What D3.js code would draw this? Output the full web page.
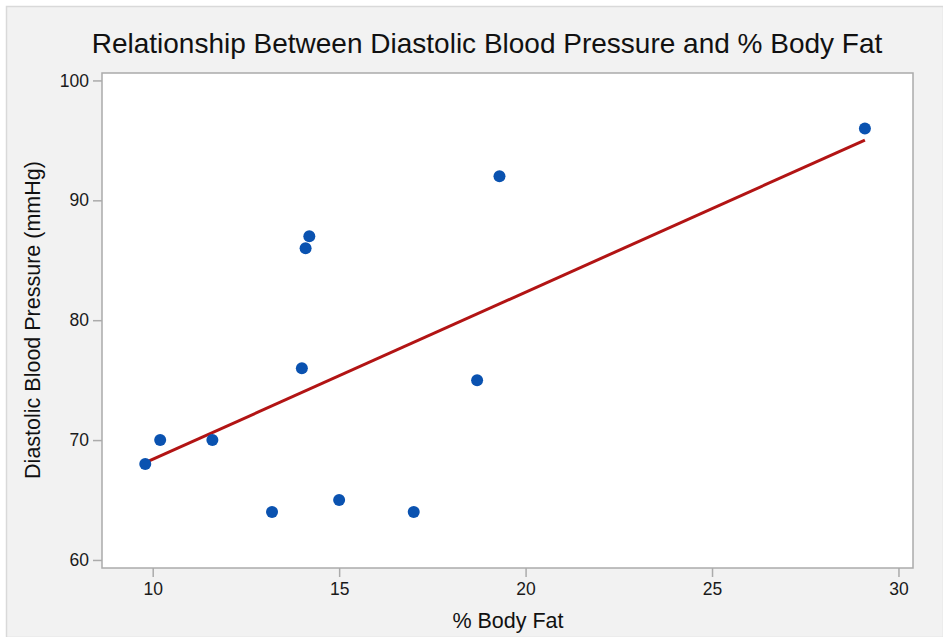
<!DOCTYPE html>
<html>
<head>
<meta charset="utf-8">
<script src="https://cdn.jsdelivr.net/npm/d3@7"></script>
<style>
  html, body { margin: 0; padding: 0; background: #ffffff; }
  svg { display: block; }
  text { font-family: "Liberation Sans", Arial, Helvetica, sans-serif; }
</style>
</head>
<body>
<svg id="chart" width="943" height="637"></svg>
<script>
const title = "Relationship Between Diastolic Blood Pressure and % Body Fat";
const xLabel = "% Body Fat";
const yLabel = "Diastolic Blood Pressure (mmHg)";
const bodyFat = [9.8, 10.2, 11.6, 13.2, 14.0, 14.1, 14.2, 15.0, 17.0, 18.7, 19.3, 29.1];
const diastolic = [68, 70, 70, 64, 76, 86, 87, 65, 64, 75, 92, 96];
const xTicks = [10, 15, 20, 25, 30];
const yTicks = [60, 70, 80, 90, 100];

const W = 943, H = 637;
const plot = { left: 102, top: 73, right: 913, bottom: 568 };

const svg = d3.select("#chart");

// outer frame
svg.append("rect").attr("x", 6.5).attr("y", 6.5).attr("width", W - 6).attr("height", H - 6)
  .attr("fill", "#f2f2f2").attr("stroke", "#d9d9d9").attr("stroke-width", 1.5);

const x = d3.scaleLinear().domain([8.64, 30.39]).range([plot.left, plot.right]);
const y = d3.scaleLinear().domain([59.33, 100.62]).range([plot.bottom, plot.top]);

// plot area
svg.append("rect").attr("x", plot.left).attr("y", plot.top)
  .attr("width", plot.right - plot.left).attr("height", plot.bottom - plot.top)
  .attr("fill", "#ffffff").attr("stroke", "#ababab").attr("stroke-width", 1.5);

// axes
const xAxis = svg.append("g").attr("transform", `translate(0,${plot.bottom})`)
  .call(d3.axisBottom(x).tickValues(xTicks).tickSize(9).tickPadding(6).tickFormat(d3.format("d")));
const yAxis = svg.append("g").attr("transform", `translate(${plot.left},0)`)
  .call(d3.axisLeft(y).tickValues(yTicks).tickSize(9).tickPadding(4).tickFormat(d3.format("d")));
[xAxis, yAxis].forEach(g => {
  g.select(".domain").remove();
  g.selectAll(".tick line").attr("stroke", "#ababab").attr("stroke-width", 1.5);
  g.selectAll(".tick text").attr("fill", "#1a1a1a").style("font-size", "17.5px");
});

// regression line (least squares from the data)
const mx = d3.mean(bodyFat), my = d3.mean(diastolic);
const slope = d3.sum(bodyFat, (v, i) => (v - mx) * (diastolic[i] - my)) / d3.sum(bodyFat, v => (v - mx) ** 2);
const intercept = my - slope * mx;
const [x0, x1] = d3.extent(bodyFat);
svg.append("line")
  .attr("x1", x(x0)).attr("y1", y(intercept + slope * x0))
  .attr("x2", x(x1)).attr("y2", y(intercept + slope * x1))
  .attr("stroke", "#b21414").attr("stroke-width", 3);

// points
svg.append("g").selectAll("circle").data(bodyFat).join("circle")
  .attr("cx", d => x(d)).attr("cy", (d, i) => y(diastolic[i]))
  .attr("r", 6).attr("fill", "#0a52b0");

// title & labels
svg.append("text").attr("x", 487).attr("y", 53).attr("text-anchor", "middle")
  .attr("fill", "#111").style("font-size", "28px").text(title);
svg.append("text").attr("x", 508).attr("y", 628).attr("text-anchor", "middle")
  .attr("fill", "#111").style("font-size", "21.5px").text(xLabel);
svg.append("text").attr("transform", "translate(40,320) rotate(-90)").attr("text-anchor", "middle")
  .attr("fill", "#111").style("font-size", "21.5px").text(yLabel);
</script>
</body>
</html>
